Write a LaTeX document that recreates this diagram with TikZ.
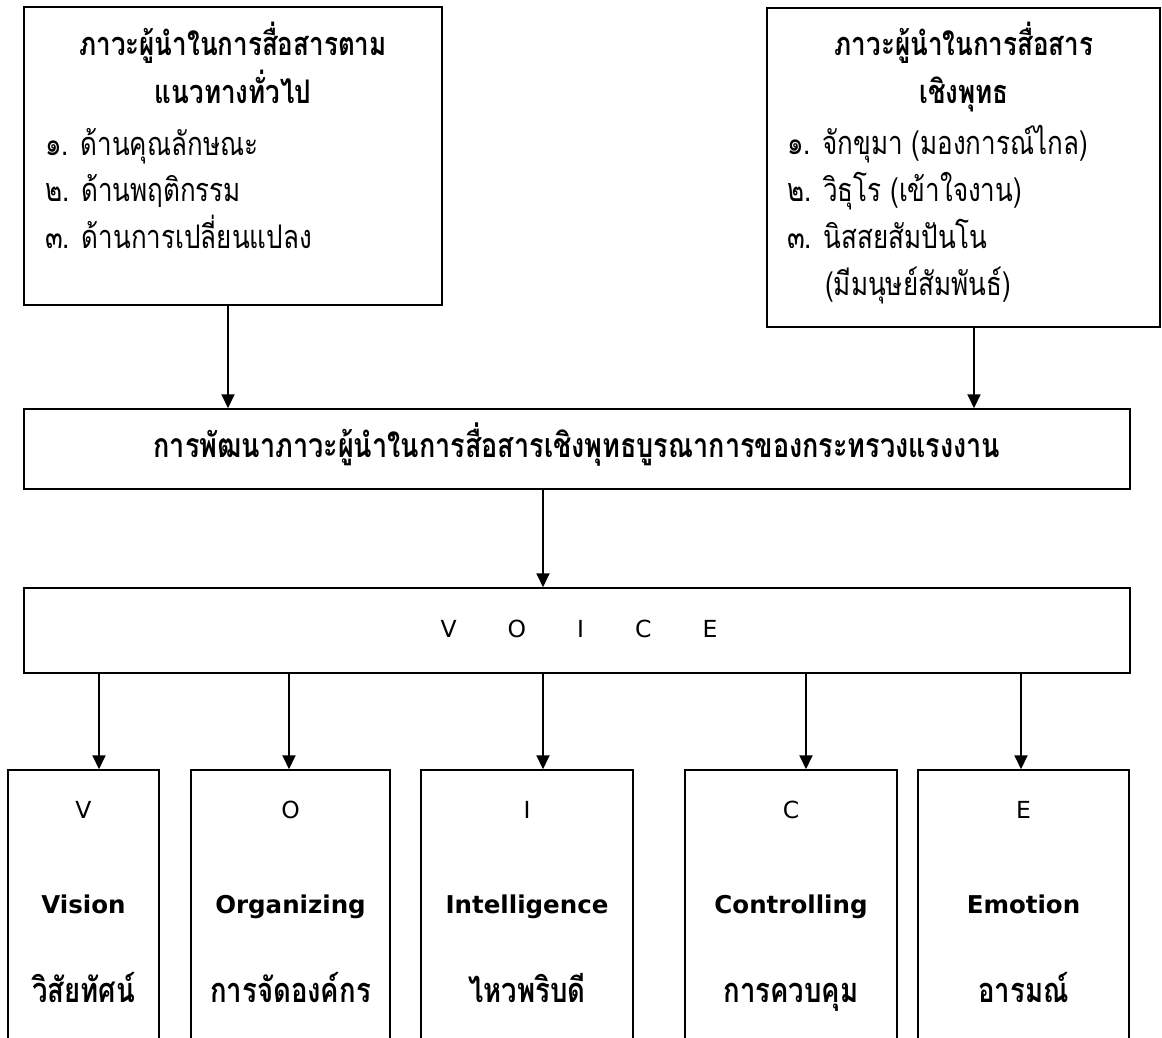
\documentclass[tikz,border=0pt]{standalone}
\usepackage{graphicx}
\usepackage{fontspec}
\setmainfont[Script=Thai]{Loma}
\newfontfamily\latinfont{DejaVu Sans}
\newcommand\tht[1]{\scalebox{1}[1.25]{#1}}
\usetikzlibrary{arrows.meta,fit}
\begin{document}
\begin{tikzpicture}[x=1pt,y=-1pt,
  box/.style={draw, line width=1.5pt, inner sep=0pt},
  arr/.style={line width=1.9pt, -{Triangle[width=13pt,length=14pt]}},
  txt/.style={inner sep=0pt, anchor=base, font=\fontsize{26}{30}\selectfont},
  ltxt/.style={txt, anchor=base west},
  btxt/.style={txt, font=\fontsize{26}{30}\selectfont\bfseries},
  bbtxt/.style={txt, font=\fontsize{27.5}{30}\selectfont\bfseries},
  ltn/.style={txt, font=\fontsize{23.5}{28}\selectfont\latinfont},
  ltnb/.style={txt, font=\fontsize{24.5}{28}\selectfont\latinfont\bfseries}]
\useasboundingbox (0,0) rectangle (1162,1037);
\fill[white] (0,0) rectangle (1162,1037);
% boxes
\node[box, fit={(24,7) (442,305)}] (A) {};
\node[box, fit={(767,8) (1160,327)}] (B) {};
\node[box, fit={(24,409) (1130,489)}] (C) {};
\node[box, fit={(24,588) (1130,673)}] (D) {};
\node[box, fit={(8,770) (159,1060)}] (bV) {};
\node[box, fit={(191,770) (390,1060)}] (bO) {};
\node[box, fit={(421,770) (633,1060)}] (bI) {};
\node[box, fit={(685,770) (897,1060)}] (bC) {};
\node[box, fit={(918,770) (1129,1060)}] (bE) {};
% texts box A
\node[btxt] (a1) at (233,55) {\tht{ภาวะผู้นำในการสื่อสารตาม}};
\node[btxt] (a2) at (233,103) {\tht{แนวทางทั่วไป}};
\node[ltxt] (a3) at (45,155) {\tht{๑. ด้านคุณลักษณะ}};
\node[ltxt] (a4) at (45,201) {\tht{๒. ด้านพฤติกรรม}};
\node[ltxt] (a5) at (45,248) {\tht{๓. ด้านการเปลี่ยนแปลง}};
% texts box B
\node[btxt] (b1) at (964,55) {\tht{ภาวะผู้นำในการสื่อสาร}};
\node[btxt] (b2) at (964,103) {\tht{เชิงพุทธ}};
\node[ltxt] (b3) at (787,154) {\tht{๑. จักขุมา (มองการณ์ไกล)}};
\node[ltxt] (b4) at (787,201) {\tht{๒. วิธุโร (เข้าใจงาน)}};
\node[ltxt] (b5) at (787,248) {\tht{๓. นิสสยสัมปันโน}};
\node[ltxt] (b6) at (825,295) {\tht{(มีมนุษย์สัมพันธ์)}};
% middle
\node[btxt, font=\fontsize{27}{30}\selectfont\bfseries] (c1) at (577,457) {\tht{การพัฒนาภาวะผู้นำในการสื่อสารเชิงพุทธบูรณาการของกระทรวงแรงงาน}};
\node[ltn] (d1) at (579,637) {V\hspace{51pt}O\hspace{51pt}I\hspace{51pt}C\hspace{51pt}E};
% bottom texts
\node[ltn] (v1) at (83.5,818) {V};
\node[ltnb] (v2) at (83.5,913) {Vision};
\node[bbtxt] (v3) at (83.5,1002) {\tht{วิสัยทัศน์}};
\node[ltn] (o1) at (290.5,818) {O};
\node[ltnb] (o2) at (290.5,913) {Organizing};
\node[bbtxt] (o3) at (290.5,1002) {\tht{การจัดองค์กร}};
\node[ltn] (i1) at (527,818) {I};
\node[ltnb] (i2) at (527,913) {Intelligence};
\node[bbtxt] (i3) at (527,1002) {\tht{ไหวพริบดี}};
\node[ltn] (k1) at (791,818) {C};
\node[ltnb] (k2) at (791,913) {Controlling};
\node[bbtxt] (k3) at (791,1002) {\tht{การควบคุม}};
\node[ltn] (e1) at (1023.5,818) {E};
\node[ltnb] (e2) at (1023.5,913) {Emotion};
\node[bbtxt] (e3) at (1023.5,1002) {\tht{อารมณ์}};
% arrows
\draw[arr] (228,0 |- A.south) -- (228,0 |- C.north);
\draw[arr] (974,0 |- B.south) -- (974,0 |- C.north);
\draw[arr] (543,0 |- C.south) -- (543,0 |- D.north);
\draw[arr] (99,0 |- D.south) -- (99,0 |- bV.north);
\draw[arr] (289,0 |- D.south) -- (289,0 |- bO.north);
\draw[arr] (543,0 |- D.south) -- (543,0 |- bI.north);
\draw[arr] (806,0 |- D.south) -- (806,0 |- bC.north);
\draw[arr] (1021,0 |- D.south) -- (1021,0 |- bE.north);
\end{tikzpicture}
\end{document}
